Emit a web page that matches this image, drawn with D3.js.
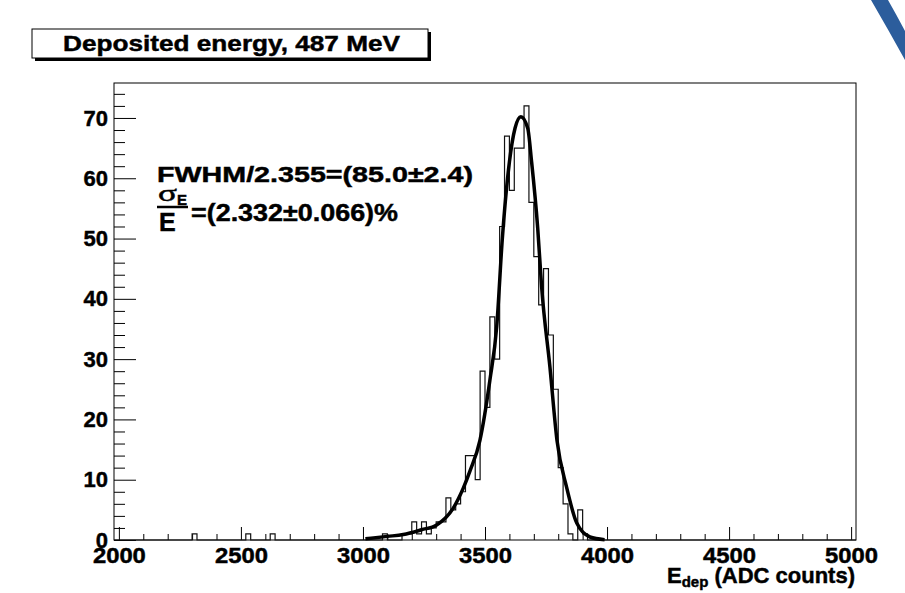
<!DOCTYPE html>
<html>
<head>
<meta charset="utf-8">
<script src="https://cdn.jsdelivr.net/npm/d3@7"></script>
<style>
  body { margin: 0; background: #fff; }
  svg { display: block; }
  text { font-family: "Liberation Sans", Arial, Helvetica, sans-serif; font-weight: bold; fill: #000; stroke: #000; stroke-width: 0.45px; }
</style>
</head>
<body>
<svg id="chart" width="905" height="593"></svg>
<script>
// histogram: 20 ADC count bins, only non-empty bins listed (low edge -> entries)
const histMin = 1980;
const histMax = 5020;
const binWidth = 20;
const binStarts = [2300, 2520, 2620, 3080, 3160, 3180, 3200, 3220, 3240, 3260, 3280, 3300, 3320,
  3340, 3360, 3380, 3400, 3420, 3440, 3460, 3480, 3500, 3520, 3540, 3560, 3580, 3600, 3620,
  3640, 3660, 3680, 3700, 3720, 3740, 3760, 3780, 3800, 3820, 3840, 3880, 3900];
const binCounts = [1, 1, 1, 1, 1, 1, 3, 1, 3, 1, 2, 3, 3,
  7, 5, 6, 8, 14, 14, 10, 28, 22, 37, 30, 52, 67, 58, 65,
  65, 72, 56, 47, 39, 45, 34, 25, 12, 6, 1, 5, 1];

// fitted curve
const fitE = [3010, 3100, 3165, 3240, 3302, 3370, 3411, 3439, 3479, 3520, 3548, 3571, 3600, 3623,
  3647, 3675, 3691, 3716, 3732, 3766, 3795, 3834, 3876, 3930, 3990];
const fitN = [0.2, 0.6, 0.9, 1.7, 2.5, 5.3, 8.6, 11.5, 16.5, 26.5, 35.4, 50, 62.7, 68.3,
  70.2, 68.3, 62.7, 51.7, 42, 28.7, 16.5, 8.8, 2.8, 0.5, 0.05];

const yMajor = [0, 10, 20, 30, 40, 50, 60, 70];
const xMajor = [2000, 2500, 3000, 3500, 4000, 4500, 5000];

const svg = d3.select('#chart');

const x = d3.scaleLinear().domain([histMin, histMax]).range([114, 856]);
const y = d3.scaleLinear().domain([0, 75.8]).range([540, 83]);

// corner decoration (slide arc)
svg.append('path')
  .attr('d', 'M871,0 Q889,31 905,60 L905,31 Q896,14 888,0 Z')
  .attr('fill', '#2c5d9c');

// title box with shadow
svg.append('rect').attr('x', 35).attr('y', 32).attr('width', 396).attr('height', 29).attr('fill', '#000');
svg.append('rect').attr('x', 32).attr('y', 29).attr('width', 396).attr('height', 29)
  .attr('fill', '#fff').attr('stroke', '#000').attr('stroke-width', 1);
svg.append('text')
  .attr('x', 63).attr('y', 51)
  .attr('font-size', 22)
  .attr('textLength', 337).attr('lengthAdjust', 'spacingAndGlyphs')
  .text('Deposited energy, 487 MeV');

// frame
svg.append('rect')
  .attr('x', 114).attr('y', 83).attr('width', 742).attr('height', 457)
  .attr('fill', 'none').attr('stroke', '#000').attr('stroke-width', 1);

// y axis, ticks drawn inward
svg.append('g').attr('transform', 'translate(114,0)')
  .call(d3.axisLeft(y).tickValues(yMajor).tickSize(-22).tickPadding(6));
svg.append('g').attr('transform', 'translate(114,0)')
  .call(d3.axisLeft(y).tickValues(d3.range(0, 76, 2).filter(v => v % 10 !== 0)).tickSize(-11).tickFormat(''));

const xAxis = svg.append('g').attr('transform', 'translate(0,540)')
  .call(d3.axisBottom(x).tickValues(xMajor).tickSize(-13).tickPadding(7).tickFormat(d3.format('d')));
svg.append('g').attr('transform', 'translate(0,540)')
  .call(d3.axisBottom(x).tickValues(d3.range(2000, 5001, 100).filter(v => v % 500 !== 0)).tickSize(-6).tickFormat(''));

svg.selectAll('.domain').remove();
svg.selectAll('.tick line').attr('stroke', '#000').attr('stroke-width', 1);
svg.selectAll('.tick text').attr('font-size', 22).attr('font-family', null).style('font-weight', 'bold').attr('fill', '#000');
xAxis.selectAll('.tick text').attr('textLength', 53).attr('lengthAdjust', 'spacingAndGlyphs');

// histogram outline
const countAt = new Map(binStarts.map((b, i) => [b, binCounts[i]]));
const steps = d3.range(histMin, histMax, binWidth).map(b => [b, countAt.get(b) || 0]);
steps.push([histMax, 0]);
svg.append('path')
  .datum(steps)
  .attr('fill', 'none')
  .attr('stroke', '#111')
  .attr('stroke-width', 1.2)
  .attr('d', d3.line().x(d => x(d[0])).y(d => y(d[1])).curve(d3.curveStepAfter));

// fit
svg.append('path')
  .datum(fitE.map((e, i) => [e, fitN[i]]))
  .attr('fill', 'none')
  .attr('stroke', '#000')
  .attr('stroke-width', 3.5)
  .attr('stroke-linejoin', 'round')
  .attr('d', d3.line().x(d => x(d[0])).y(d => y(d[1])).curve(d3.curveMonotoneX));

// fit results
svg.append('text')
  .attr('x', 157).attr('y', 182)
  .attr('font-size', 22)
  .attr('textLength', 316).attr('lengthAdjust', 'spacingAndGlyphs')
  .text('FWHM/2.355=(85.0\u00b12.4)');

svg.append('text')
  .attr('x', 158).attr('y', 201)
  .attr('font-size', 24)
  .style('font-family', '"Liberation Serif", "DejaVu Serif", serif')
  .style('font-weight', 'normal')
  .attr('textLength', 19).attr('lengthAdjust', 'spacingAndGlyphs')
  .text('\u03c3');
svg.append('text')
  .attr('x', 177).attr('y', 205)
  .attr('font-size', 15)
  .text('E');
svg.append('line')
  .attr('x1', 157).attr('x2', 188).attr('y1', 207).attr('y2', 207)
  .attr('stroke', '#000').attr('stroke-width', 2.5);
svg.append('text')
  .attr('x', 159).attr('y', 231)
  .attr('font-size', 25)
  .text('E');
svg.append('text')
  .attr('x', 191).attr('y', 221)
  .attr('font-size', 23)
  .attr('textLength', 207).attr('lengthAdjust', 'spacingAndGlyphs')
  .text('=(2.332\u00b10.066)%');

// x axis title
const xt = svg.append('text')
  .attr('x', 855).attr('y', 583)
  .attr('text-anchor', 'end')
  .attr('font-size', 22);
xt.append('tspan').text('E');
xt.append('tspan').attr('font-size', 15).attr('dy', 4).text('dep');
xt.append('tspan').attr('dy', -4).text(' (ADC counts)');
</script>
</body>
</html>
